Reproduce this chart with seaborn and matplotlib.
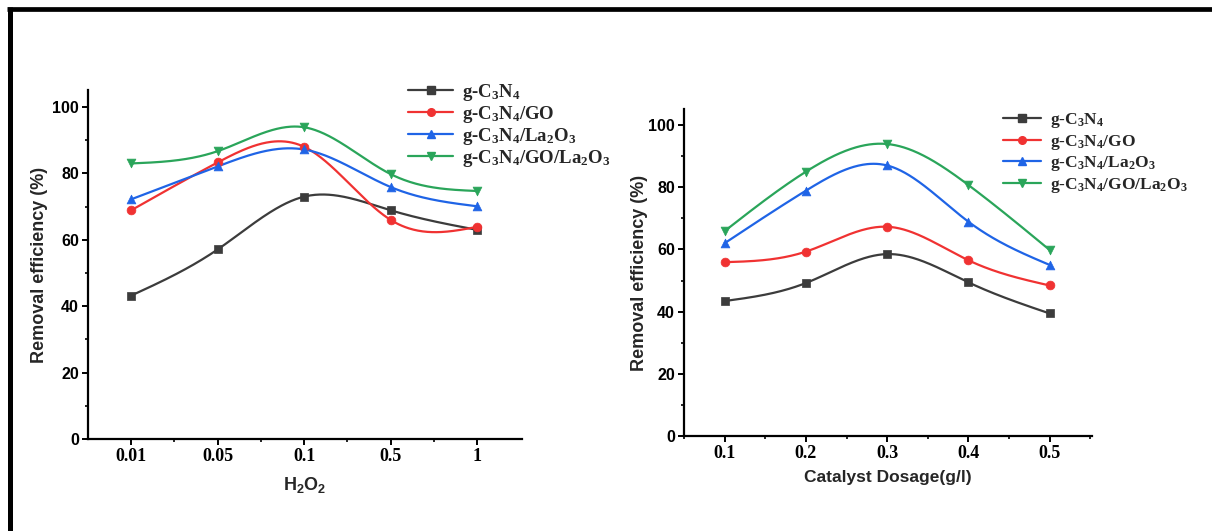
import numpy as np
import matplotlib
matplotlib.use("Agg")
import matplotlib.pyplot as plt
from matplotlib.lines import Line2D
from matplotlib.ticker import MultipleLocator, FixedLocator
import seaborn as sns

# ---- data ----
series_names = [r"g-C$_3$N$_4$", r"g-C$_3$N$_4$/GO", r"g-C$_3$N$_4$/La$_2$O$_3$",
                r"g-C$_3$N$_4$/GO/La$_2$O$_3$"]

h2o2_labels = ["0.01", "0.05", "0.1", "0.5", "1"]
h2o2_cn = [43.2, 57.1, 73.0, 68.9, 63.0]
h2o2_cn_go = [68.9, 83.3, 88.0, 66.0, 63.9]
h2o2_cn_la = [72.2, 82.1, 87.2, 75.9, 70.1]
h2o2_cn_go_la = [83.0, 86.7, 93.9, 79.8, 74.7]

dosage = [0.1, 0.2, 0.3, 0.4, 0.5]
dose_cn = [43.4, 49.2, 58.5, 49.4, 39.4]
dose_cn_go = [55.9, 59.3, 67.3, 56.5, 48.4]
dose_cn_la = [62.0, 78.9, 87.0, 68.9, 55.0]
dose_cn_go_la = [65.9, 85.0, 93.9, 80.7, 59.8]

colors = ["#3c3c3c", "#f03232", "#1f64e6", "#2aa55a"]
markers = ["s", "o", "^", "v"]


def natural_spline(x, y, n=300):
    """Natural cubic spline through the given points."""
    x = np.asarray(x, float)
    y = np.asarray(y, float)
    k = len(x)
    h = np.diff(x)
    A = np.zeros((k, k))
    b = np.zeros(k)
    A[0, 0] = A[-1, -1] = 1.0
    for i in range(1, k - 1):
        A[i, i - 1] = h[i - 1]
        A[i, i] = 2 * (h[i - 1] + h[i])
        A[i, i + 1] = h[i]
        b[i] = 6 * ((y[i + 1] - y[i]) / h[i] - (y[i] - y[i - 1]) / h[i - 1])
    M = np.linalg.solve(A, b)
    xs = np.linspace(x[0], x[-1], n)
    idx = np.clip(np.searchsorted(x, xs) - 1, 0, k - 2)
    x0, x1 = x[idx], x[idx + 1]
    hi = x1 - x0
    t0, t1 = x1 - xs, xs - x0
    ys = (M[idx] * t0 ** 3 / (6 * hi) + M[idx + 1] * t1 ** 3 / (6 * hi)
          + (y[idx] / hi - M[idx] * hi / 6) * t0
          + (y[idx + 1] / hi - M[idx + 1] * hi / 6) * t1)
    return xs, ys


sns.set_style("ticks")
plt.rcParams["font.family"] = ["Liberation Sans", "DejaVu Sans"]
plt.rcParams["font.weight"] = "bold"
plt.rcParams["axes.labelweight"] = "bold"
plt.rcParams["mathtext.default"] = "regular"

fig = plt.figure(figsize=(12.12, 5.31), dpi=100)
fig.patch.set_facecolor("white")

W, H = 1212.0, 531.0
ax1 = fig.add_axes([88 / W, 1 - 439 / H, (522 - 88) / W, (439 - 90.4) / H])
ax2 = fig.add_axes([684 / W, 1 - 436 / H, (1092 - 684) / W, (436 - 109.5) / H])

serif_tick = dict(family=["Liberation Serif", "DejaVu Serif"], weight="bold", size=13)


def draw_panel(ax, xvals, groups, ylabelpad):
    for vals, c, m in zip(groups, colors, markers):
        xs, ys = natural_spline(xvals, vals)
        sns.lineplot(x=xs, y=ys, color=c, lw=1.6, ax=ax, estimator=None,
                     sort=False, zorder=2)
        sns.scatterplot(x=list(xvals), y=vals, color=c, marker=m, s=40,
                        edgecolor=c, linewidth=0.5, ax=ax, zorder=3)
    ax.set_ylim(0, 105)
    ax.yaxis.set_major_locator(MultipleLocator(20))
    ax.yaxis.set_minor_locator(MultipleLocator(10))
    for s in ["top", "right"]:
        ax.spines[s].set_visible(False)
    for s in ["left", "bottom"]:
        ax.spines[s].set_linewidth(1.6)
        ax.spines[s].set_color("black")
    ax.tick_params(which="major", direction="out", length=4.5, width=1.4,
                   colors="black", pad=2)
    ax.tick_params(which="minor", direction="out", length=2.5, width=1.2,
                   colors="black")
    ax.tick_params(axis="y", labelsize=11.5)
    ax.set_ylabel("Removal efficiency (%)", fontsize=13, fontweight="bold",
                  labelpad=ylabelpad)
    ax.set_facecolor("white")


# ---- left panel: H2O2 ----
pos = np.arange(len(h2o2_labels))
draw_panel(ax1, pos, [h2o2_cn, h2o2_cn_go, h2o2_cn_la, h2o2_cn_go_la], 3)
ax1.set_xlim(-0.5, 4.52)
ax1.xaxis.set_major_locator(FixedLocator(pos))
ax1.xaxis.set_minor_locator(FixedLocator(pos[:-1] + 0.5))
ax1.set_xticklabels(h2o2_labels, **serif_tick)
ax1.set_xlabel(r"H$_2$O$_2$", fontsize=13, fontweight="bold", labelpad=7)

# ---- right panel: catalyst dosage ----
draw_panel(ax2, dosage, [dose_cn, dose_cn_go, dose_cn_la, dose_cn_go_la], 0)
ax2.set_xlim(0.05, 0.552)
ax2.xaxis.set_major_locator(FixedLocator(dosage))
ax2.xaxis.set_minor_locator(MultipleLocator(0.05))
ax2.set_xticklabels([f"{d:.1f}" for d in dosage], **serif_tick)
ax2.set_xlabel("Catalyst Dosage(g/l)", fontsize=12.5, fontweight="bold", labelpad=6)

# ---- legends ----
handles = [Line2D([], [], color=c, marker=m, markersize=5.5, lw=1.6)
           for c, m in zip(colors, markers)]
leg_font = dict(family=["Liberation Serif", "DejaVu Serif"], weight="bold", size=13.5)
ax1.legend(handles, series_names, loc="upper left",
           bbox_to_anchor=(408 / W, 1 - 82 / H), bbox_transform=fig.transFigure,
           frameon=False, prop=leg_font, handlelength=2.4, handletextpad=0.5,
           labelspacing=0.05, borderpad=0, borderaxespad=0)
ax2.legend(handles, series_names, loc="upper left",
           bbox_to_anchor=(1003 / W, 1 - 111 / H), bbox_transform=fig.transFigure,
           frameon=False, prop=dict(leg_font, size=12.5), handlelength=2.2,
           handletextpad=0.5, labelspacing=0.15, borderpad=0, borderaxespad=0)

# ---- outer frame (top and left edges) ----
fig.add_artist(Line2D([7 / W, 1.0], [1 - 9 / H, 1 - 9 / H], color="black",
                      lw=3.4, transform=fig.transFigure, solid_capstyle="butt"))
fig.add_artist(Line2D([10 / W, 10 / W], [0.0, 1 - 7 / H], color="black",
                      lw=3.6, transform=fig.transFigure, solid_capstyle="butt"))

fig.savefig("out.png", dpi=100, facecolor="white")
